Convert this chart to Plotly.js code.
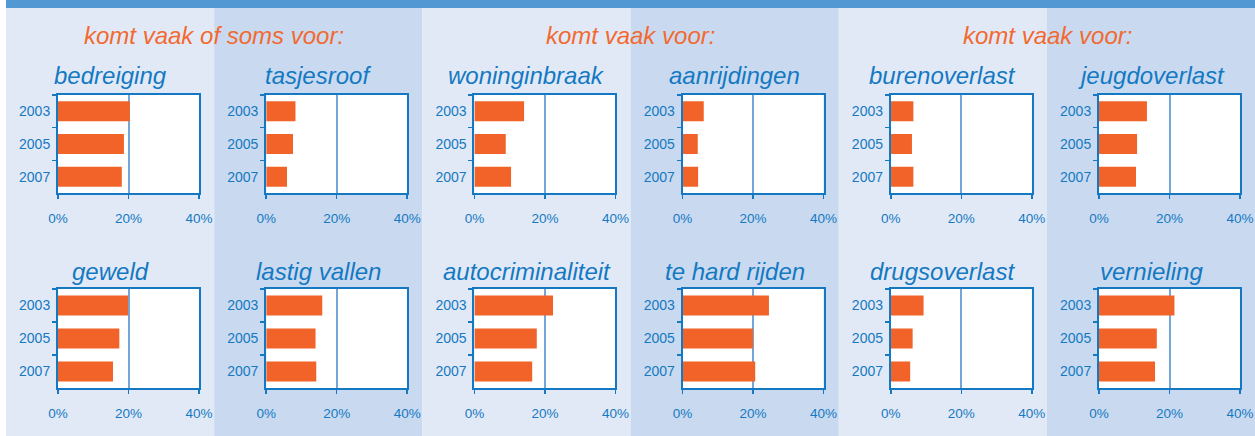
<!DOCTYPE html>
<html>
<head>
<meta charset="utf-8">
<script src="https://cdn.plot.ly/plotly-3.0.1.min.js"></script>
<style>html,body{margin:0;padding:0;background:#fff;}#chart{width:1255px;height:436px;}</style>
</head>
<body>
<div id="chart"></div>
<script>
const years = ['2003', '2005', '2007'];
const xTickVals = [0, 20, 40];
const xTickText = ['0%', '20%', '40%'];
const groupTitles = ['komt vaak of soms voor:', 'komt vaak voor:', 'komt vaak voor:'];
const panelTitles = ['bedreiging', 'tasjesroof', 'woninginbraak', 'aanrijdingen', 'burenoverlast', 'jeugdoverlast',
                     'geweld', 'lastig vallen', 'autocriminaliteit', 'te hard rijden', 'drugsoverlast', 'vernieling'];
const bedreiging = [20.4, 18.7, 18.1];
const tasjesroof = [8.3, 7.6, 5.9];
const woninginbraak = [14.1, 8.9, 10.4];
const aanrijdingen = [6.0, 4.3, 4.4];
const burenoverlast = [6.4, 6.0, 6.4];
const jeugdoverlast = [13.6, 10.8, 10.5];
const geweld = [19.9, 17.4, 15.6];
const lastigVallen = [15.9, 14.0, 14.2];
const autocriminaliteit = [22.3, 17.7, 16.4];
const teHardRijden = [24.5, 20.0, 20.6];
const drugsoverlast = [9.3, 6.2, 5.5];
const vernieling = [21.4, 16.4, 15.9];
const seriesValues = [bedreiging, tasjesroof, woninginbraak, aanrijdingen, burenoverlast, jeugdoverlast,
                      geweld, lastigVallen, autocriminaliteit, teHardRijden, drugsoverlast, vernieling];

const W = 1255, H = 436;
const BLUE = '#1479c2', ORANGE = '#f26329';
const FONT = 'Liberation Sans, Arial, sans-serif';
const colLeft = 6, colW = 208.2;
const plotOffset = 52, plotW = 141;
const rowTop = [95, 289], rowBot = [193, 388];
const titleY = [75, 271];

const data = [];
const layout = {
  width: W, height: H,
  margin: {l: 0, r: 0, t: 0, b: 0},
  paper_bgcolor: '#ffffff', plot_bgcolor: '#ffffff',
  showlegend: false,
  bargap: 0.39,
  shapes: [], annotations: []
};

// background columns
for (let c = 0; c < 6; c++) {
  const x0 = colLeft + c * colW, x1 = (c === 5) ? W : colLeft + (c + 1) * colW;
  layout.shapes.push({type: 'rect', xref: 'paper', yref: 'paper', layer: 'below',
    x0: x0 / W, x1: x1 / W, y0: 0, y1: 1, line: {width: 0},
    fillcolor: c % 2 === 0 ? '#e2e9f6' : '#c9daf0'});
}
layout.shapes.push({type: 'rect', xref: 'paper', yref: 'paper', layer: 'below',
  x0: colLeft / W, x1: 1, y0: 1 - 8 / H, y1: 1, line: {width: 0}, fillcolor: '#5298d2'});

// group titles
for (let g = 0; g < 3; g++) {
  const cx = colLeft + (2 * g + 1) * colW;
  layout.annotations.push({text: groupTitles[g], xref: 'paper', yref: 'paper',
    x: cx / W, y: 1 - 35.5 / H, xanchor: 'center', yanchor: 'middle', showarrow: false,
    font: {family: FONT, size: 24, color: '#f26a30', style: 'italic'}});
}

for (let i = 0; i < 12; i++) {
  const r = Math.floor(i / 6), c = i % 6;
  const n = i + 1;
  const sx = (n === 1 ? '' : String(n));
  const xl = colLeft + c * colW + plotOffset;
  data.push({type: 'bar', orientation: 'h', x: seriesValues[i], y: years,
    xaxis: 'x' + sx, yaxis: 'y' + sx,
    marker: {color: ORANGE, line: {width: 0}}, hoverinfo: 'skip'});
  layout['xaxis' + sx] = {domain: [xl / W, (xl + plotW) / W], range: [0, 40], anchor: 'y' + sx,
    tickmode: 'array', tickvals: xTickVals, ticktext: xTickText,
    ticks: 'outside', ticklen: 4, tickwidth: 1.5, tickcolor: BLUE,
    showline: true, linecolor: BLUE, linewidth: 2, mirror: true,
    showgrid: true, gridcolor: '#76a6d8', gridwidth: 2, zeroline: false,
    ticklabelstandoff: 8, tickfont: {family: FONT, size: 13.5, color: BLUE}, fixedrange: true};
  layout['yaxis' + sx] = {domain: [1 - rowBot[r] / H, 1 - rowTop[r] / H], anchor: 'x' + sx,
    type: 'category', categoryorder: 'array', categoryarray: years, autorange: 'reversed',
    tickson: 'boundaries', ticks: 'outside', ticklen: 4, tickwidth: 1.5, tickcolor: BLUE,
    showline: true, linecolor: BLUE, linewidth: 2, mirror: true, showgrid: false, zeroline: false,
    ticklabelstandoff: 3, tickfont: {family: FONT, size: 14, color: BLUE}, fixedrange: true};
  // white plot area, drawn under gridlines and bars
  layout.shapes.push({type: 'rect', xref: 'x' + sx + ' domain', yref: 'y' + sx + ' domain', layer: 'below',
    x0: 0, x1: 1, y0: 0, y1: 1, line: {width: 0}, fillcolor: '#ffffff'});
  layout.annotations.push({text: panelTitles[i], xref: 'paper', yref: 'paper',
    x: (colLeft + (c + 0.5) * colW) / W, y: 1 - titleY[r] / H, xanchor: 'center', yanchor: 'middle',
    showarrow: false, font: {family: FONT, size: 24, color: BLUE, style: 'italic'}});
}

Plotly.newPlot('chart', data, layout, {staticPlot: true, displayModeBar: false});
</script>
</body>
</html>
